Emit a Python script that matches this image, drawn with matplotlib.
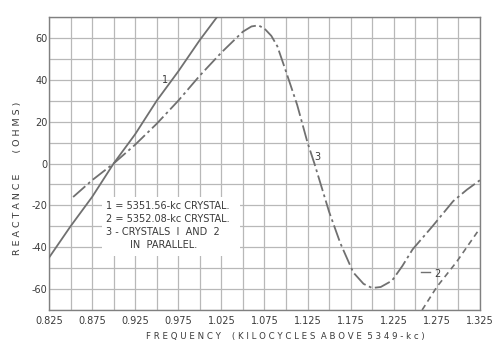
import matplotlib.pyplot as plt
import numpy as np

# curve 1: 5351.56-kc crystal
freq1 = [0.825, 0.85, 0.875, 0.9, 0.925, 0.95, 0.975, 1.0, 1.02]
react1 = [-45, -30, -16, 0, 14, 30, 44, 59, 70]

# curve 3: crystals 1 and 2 in parallel
freq3 = [0.853, 0.875, 0.9, 0.925, 0.95, 0.975, 1.0, 1.025, 1.05, 1.06, 1.068,
         1.075, 1.083, 1.09, 1.1, 1.113, 1.125, 1.133, 1.15, 1.163, 1.178, 1.19,
         1.2, 1.21, 1.223, 1.235, 1.247, 1.27, 1.294, 1.31, 1.325]
react3 = [-16, -8, 0, 9, 19, 30, 42, 53, 63, 65.5, 66,
          64.5, 61, 56, 44, 28, 10, 0, -23, -38, -52, -57.5,
          -59.5, -59, -56, -49, -41, -30, -18, -12.5, -8]

# curve 2: 5352.08-kc crystal
freq2 = [1.258, 1.275, 1.298, 1.325]
react2 = [-70, -59, -47, -31]

xticks = np.round(np.arange(0.825, 1.3251, 0.025), 3)
xlabels = ['0.825', '', '0.875', '', '0.925', '', '0.975', '', '1.025', '', '1.075', '',
           '1.125', '', '1.175', '', '1.225', '', '1.275', '', '1.325']
yticks = list(range(-70, 71, 10))
ylabels = ['' if (v % 20 or abs(v) == 70) else str(v) for v in yticks]

ink = '#707070'
txt = '#3a3a3a'

fig = plt.figure(figsize=(5.03, 3.43), dpi=100)
ax = fig.add_axes([0.0974, 0.0962, 0.8566, 0.8542])

ax.set_xlim(0.825, 1.325)
ax.set_ylim(-70, 70)
ax.set_xticks(xticks)
ax.set_xticklabels(xlabels)
ax.set_yticks(yticks)
ax.set_yticklabels(ylabels)
ax.tick_params(length=0, labelsize=7, labelcolor=txt, pad=4)
ax.tick_params(axis='y', pad=1)
ax.grid(True, color='#b8b8b8', lw=0.9)
ax.set_axisbelow(True)
for s in ax.spines.values():
    s.set_color('#808080')
    s.set_linewidth(1.0)

# white patch behind the legend text
ax.add_patch(plt.Rectangle((0.887, -44), 0.16, 28, facecolor='white', edgecolor='none', zorder=1.5))

ax.plot(freq1, react1, color=ink, lw=1.3, zorder=3)
ax.plot(freq3, react3, color=ink, lw=1.3, dashes=(9, 2, 1.5, 2), zorder=3)
ax.plot(freq2, react2, color=ink, lw=1.2, dashes=(3.5, 2.5), zorder=3)
ax.plot([1.257, 1.267], [-52, -52], color=ink, lw=1.0, zorder=3)

ax.text(0.963, 40, '1', fontsize=7, color=txt, ha='right', va='center', zorder=4)
ax.text(1.136, 3, '3', fontsize=7, color=txt, ha='center', va='center', zorder=4)
ax.text(1.276, -53, '2', fontsize=7, color=txt, ha='center', va='center', zorder=4)

legend_lines = ['1 = 5351.56-kc CRYSTAL.', '2 = 5352.08-kc CRYSTAL.', '3 - CRYSTALS  I  AND  2']
for i, line in enumerate(legend_lines):
    ax.text(0.891, -20.5 - 6.2 * i, line, fontsize=7, color=txt, ha='left', va='center', zorder=4)
ax.text(0.919, -39.1, 'IN  PARALLEL.', fontsize=7, color=txt, ha='left', va='center', zorder=4)

fig.text(18 / 503, 1 - 178 / 343, 'R E A C T A N C E       ( O H M S )', rotation=90, fontsize=6.8,
         color=txt, ha='center', va='center')
fig.text(285 / 503, 1 - 336 / 343, 'F R E Q U E N C Y    ( K I L O C Y C L E S  A B O V E  5 3 4 9 - k c )',
         fontsize=6.2, color=txt, ha='center', va='center')

fig.savefig('out.png', dpi=100, facecolor='white')
